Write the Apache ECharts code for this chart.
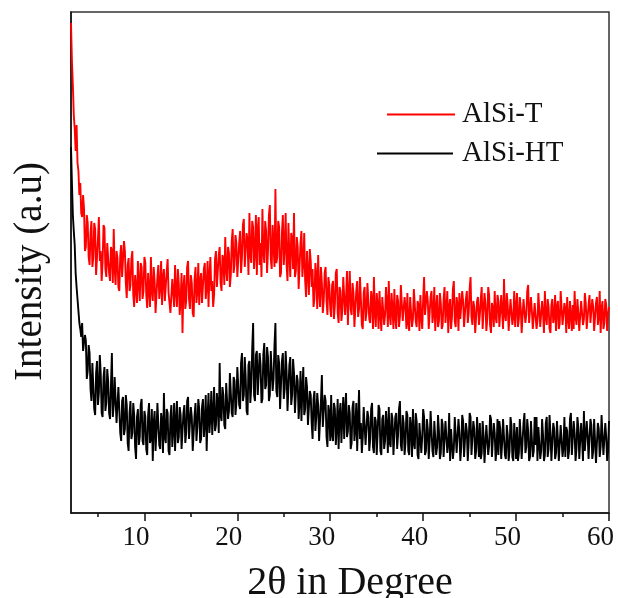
<!DOCTYPE html>
<html><head><meta charset="utf-8">
<script src="https://cdn.jsdelivr.net/npm/echarts@6/dist/echarts.min.js"></script>
<style>html,body{margin:0;padding:0;background:#fff}#c{width:618px;height:598px}</style>
</head><body><div id="c"></div>
<script>
// 2θ sampling grid: start 2.1°, step 0.1°
const twoThetaStart = 2.1;
const twoThetaStep = 0.1;
const seriesNames = ['AlSi-T', 'AlSi-HT'];
const majorTicks = [10, 20, 30, 40, 50, 60];
const minorTicks = [5, 15, 25, 35, 45, 55];

// AlSi-T intensity (arbitrary units, offset)
const alsiT = [
490,452,428,398,384,362,388,350,342,318,330,300,296,318,305,262,266,298,290,256,
248,280,292,246,255,290,284,238,240,274,296,252,262,232,250,288,285,244,236,270,
270,240,232,266,262,230,284,244,228,262,255,226,222,258,268,236,238,272,262,230,
215,248,255,222,228,254,262,218,206,238,240,210,252,230,212,250,246,214,222,256,
250,218,205,240,238,206,256,222,212,246,232,200,198,236,248,214,226,252,208,236,
244,212,210,242,254,220,218,200,200,234,236,206,248,222,206,244,230,198,214,240,
180,226,238,204,212,246,252,214,204,238,230,200,196,234,246,210,222,250,208,232,
240,210,212,244,250,214,226,252,206,238,256,222,232,206,218,254,262,226,228,258,
266,230,222,258,254,228,276,244,232,266,260,226,238,272,284,240,248,278,270,236,
236,270,282,240,256,288,294,246,244,280,272,238,300,258,250,292,286,244,262,298,
238,284,296,248,270,236,304,262,250,292,282,240,262,298,308,254,244,288,290,246,
324,250,256,292,286,236,240,280,298,248,266,300,248,232,290,258,236,280,274,244,
300,236,242,276,266,224,226,270,282,236,250,280,232,216,262,240,218,264,252,226,
244,206,214,250,238,204,258,222,206,246,230,200,212,240,246,212,198,236,228,204,
196,228,232,194,208,240,244,200,190,226,222,192,202,236,236,198,214,242,188,220,
242,204,198,230,220,186,186,222,232,196,204,236,214,188,184,220,226,192,200,230,
228,194,190,222,214,184,236,200,186,220,208,184,222,198,182,216,218,188,198,226,
210,186,232,198,188,220,204,184,224,196,184,218,212,186,196,228,230,192,190,216,
206,184,220,190,182,216,214,186,194,224,226,192,186,212,208,182,218,196,184,214,
236,198,196,222,212,184,186,216,222,190,200,226,182,204,218,186,192,220,210,184,
188,214,226,190,204,222,180,206,214,184,196,224,232,192,186,216,208,182,220,194,
194,222,212,186,184,214,222,190,200,224,236,196,188,212,206,180,182,212,216,188,
198,214,226,184,186,220,210,182,194,226,218,188,180,210,204,186,222,196,190,218,
212,186,184,218,200,184,234,198,192,220,208,182,182,214,216,188,196,222,186,206,
220,186,194,216,206,180,182,214,214,190,198,222,228,190,188,216,202,184,184,210,
210,184,192,220,218,186,184,212,200,180,222,196,188,214,206,184,180,208,214,190,
196,218,182,206,212,184,190,222,220,188,186,210,204,180,216,194,184,212,198,182,
208,184,222,196,188,214,200,182,182,212,214,188,194,220,210,184,186,208,218,190,
192,214,206,182,184,210,216,188,196,222,180,204,212,184,190,214,208,182,198,206
];

// AlSi-HT intensity (arbitrary units)
const alsiHT = [
366,330,298,282,268,240,226,214,212,190,184,176,190,162,160,178,172,134,142,168,
160,124,112,150,148,104,98,140,152,108,120,158,140,100,96,136,146,102,110,144,
132,100,94,128,160,96,108,136,138,90,88,126,124,80,72,112,116,78,84,118,
108,70,62,100,112,74,80,110,98,66,54,96,104,68,76,108,114,72,68,102,
96,64,58,98,110,70,74,104,52,90,102,62,82,110,112,68,64,100,92,60,
120,76,70,104,100,62,58,96,108,66,84,110,62,92,112,70,76,106,98,64,
66,100,108,70,80,112,116,74,72,106,96,62,60,98,110,72,86,114,104,70,
74,106,114,76,90,118,62,96,120,80,96,122,78,100,126,82,88,120,108,80,
150,98,92,126,118,88,84,130,128,94,102,140,138,100,96,136,132,98,110,146,
146,108,104,150,160,112,118,156,136,102,98,148,152,110,126,164,190,118,112,158,
162,118,120,160,148,110,114,158,170,124,128,166,156,112,118,162,164,122,134,168,
190,122,116,158,150,104,106,152,160,114,124,162,142,102,100,148,156,108,118,154,
140,100,98,138,132,94,112,142,92,124,146,98,104,136,126,88,86,122,118,90,
74,114,122,82,96,120,108,72,70,112,138,86,88,118,112,76,66,108,100,72,
118,78,72,110,104,68,86,114,64,98,110,70,94,116,74,104,120,76,82,108,
100,64,70,106,112,72,84,110,62,94,123,74,90,60,76,106,108,68,66,102,
96,62,74,104,110,66,60,96,92,58,80,108,104,62,58,94,98,64,72,102,
88,60,106,70,66,100,94,58,56,96,100,64,78,104,112,68,62,98,90,58,
70,102,98,62,58,96,86,56,104,70,64,100,92,58,54,90,88,60,76,104,
96,58,62,94,84,54,72,102,100,62,56,92,90,58,66,98,82,54,60,94,
88,56,58,92,94,60,70,100,52,84,86,54,64,96,98,60,60,94,80,52,
66,98,92,56,54,90,82,52,70,100,96,58,58,92,84,54,62,96,76,56,
90,54,60,92,78,50,52,88,86,58,68,98,94,56,56,90,80,52,64,94,
58,92,84,54,70,94,96,58,54,88,78,52,62,96,88,56,52,90,74,54,
86,52,60,94,76,54,54,90,100,60,66,94,82,52,56,92,90,56,62,96,
68,96,52,86,88,54,62,94,78,52,58,90,96,56,64,98,80,52,54,90,
84,54,60,92,74,52,52,88,90,56,66,96,56,86,82,54,62,94,100,58,
58,92,80,52,64,96,86,54,54,90,74,52,102,62,60,92,78,54,56,94,
88,54,62,94,72,50,52,90,84,56,66,98,96,58,58,90,76,52,62,92
];

const nPts = Math.max(alsiT.length, alsiHT.length);
const twoTheta = Array.from({length: nPts}, (_, i) => +(twoThetaStart + twoThetaStep * i).toFixed(1));
const pairs = arr => arr.map((v, i) => [twoTheta[i], v]);

const FONT = '"Liberation Serif", "Times New Roman", serif';
const chart = echarts.init(document.getElementById('c'), null, {renderer: 'canvas'});
chart.setOption({
  animation: false,
  backgroundColor: '#ffffff',
  grid: {left: 71, right: 9, top: 12, bottom: 85, outerBoundsMode: 'none', containLabel: false,
         show: true, borderColor: '#333', borderWidth: 1.5, backgroundColor: 'transparent'},
  legend: [
    {data: [{name: seriesNames[0]}], left: 382, top: 95, icon: 'rect', itemWidth: 68, itemHeight: 2,
     textStyle: {fontFamily: FONT, fontSize: 29, color: '#111', padding: [0,0,0,2]}},
    {data: [{name: seriesNames[1]}], left: 372, top: 134, icon: 'rect', itemWidth: 76, itemHeight: 2,
     textStyle: {fontFamily: FONT, fontSize: 29, color: '#111', padding: [0,0,0,4]}}
  ],
  xAxis: [{
    type: 'value', min: 2.1, max: 60,
    name: '2θ in Degree', nameLocation: 'middle', nameGap: 50,
    nameTextStyle: {fontFamily: FONT, fontSize: 40, color: '#111', padding: [0,0,0,20]},
    axisLine: {show: true, lineStyle: {color: '#111', width: 1.5}},
    axisTick: {show: true, inside: false, length: 8, lineStyle: {color: '#111', width: 1.5}, customValues: majorTicks},
    axisLabel: {show: true, margin: 11, fontFamily: FONT, fontSize: 27, color: '#111', customValues: majorTicks,
                padding: [0, 17, 0, 0]},
    splitLine: {show: false}
  }, {
    type: 'value', min: 2.1, max: 60, position: 'bottom',
    axisLine: {show: false},
    axisTick: {show: true, length: 4, lineStyle: {color: '#111', width: 1.5}, customValues: minorTicks},
    axisLabel: {show: false},
    splitLine: {show: false}
  }],
  yAxis: {
    type: 'value', min: 0, max: 501,
    name: 'Intensity (a.u)', nameLocation: 'middle', nameGap: 21,
    nameTextStyle: {fontFamily: FONT, fontSize: 39, color: '#111', padding: [0,18,0,0]},
    axisLine: {show: true, lineStyle: {color: '#111', width: 1.5}},
    axisTick: {show: false}, axisLabel: {show: false}, splitLine: {show: false}
  },
  series: [
    {name: seriesNames[1], type: 'line', data: pairs(alsiHT), showSymbol: false, symbol: 'none',
     lineStyle: {color: '#000000', width: 1.9}, itemStyle: {color: '#000000'}},
    {name: seriesNames[0], type: 'line', data: pairs(alsiT), showSymbol: false, symbol: 'none',
     lineStyle: {color: '#ff0000', width: 1.9}, itemStyle: {color: '#ff0000'}}
  ]
});
</script></body></html>
